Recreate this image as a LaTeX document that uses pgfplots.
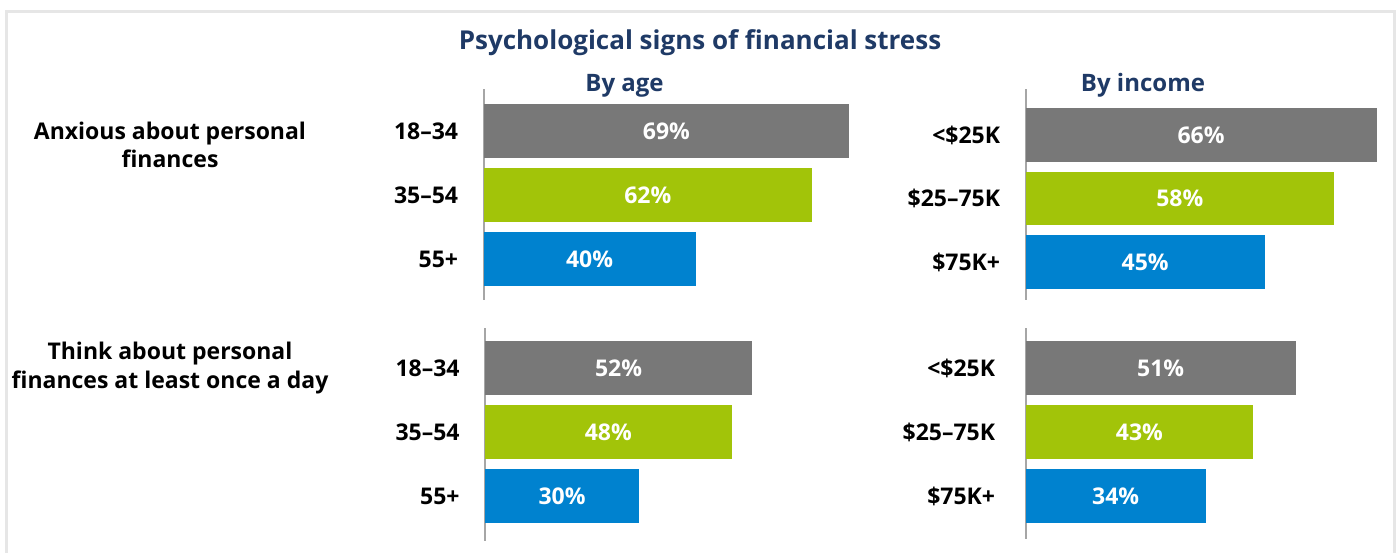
\documentclass[border=0pt]{standalone}
\usepackage{fontspec}
\setmainfont{Open Sans}
\usepackage{pgfplots}
\usepackage{pgfplotstable}
\pgfplotsset{compat=1.18}

\definecolor{cgray}{HTML}{787878}
\definecolor{cgreen}{HTML}{A2C409}
\definecolor{cblue}{HTML}{0082CF}
\definecolor{ctitle}{HTML}{1F3A66}
\definecolor{caxis}{HTML}{A6A6A6}
\definecolor{cframe}{HTML}{E6E6E6}

% y = row, v = percent
\pgfplotstableread{
y v
0 69
1 62
2 40
}\anxAge
\pgfplotstableread{
y v
0 66
1 58
2 45
}\anxInc
\pgfplotstableread{
y v
0 52
1 48
2 30
}\dayAge
\pgfplotstableread{
y v
0 51
1 43
2 34
}\dayInc

\newcommand{\lblfont}{\fontsize{23}{28}\selectfont\bfseries}

\pgfplotsset{
  panel/.style={
    xbar, scale only axis, clip=false, anchor=north west,
    xmin=0, xmax=70, xtick=\empty,
    axis x line=none, axis y line*=left,
    y axis line style={caxis, line width=2pt},
    y dir=reverse,
    ytick={0,1,2}, ytick style={draw=none},
    yticklabel style={font=\lblfont, text=black, inner sep=0pt, anchor=east, xshift=-21pt},
    bar width=54pt, bar shift=0pt,
    /pgf/number format/assume math mode=true,
  },
  vals/.style={
    sharp plot, draw=none, mark=none,
    point meta=explicit,
    nodes near coords={\pgfmathprintnumber{\pgfplotspointmeta}\%},
    every node near coord/.style={anchor=center, text=white, font=\lblfont},
  },
}

\newcommand{\bars}[1]{%
  \addplot[fill=cgray, draw=none, skip coords between index={1}{3}] table[x=v, y=y] {#1};
  \addplot[fill=cgreen, draw=none, skip coords between index={0}{1}, skip coords between index={2}{3}] table[x=v, y=y] {#1};
  \addplot[fill=cblue, draw=none, skip coords between index={0}{2}] table[x=v, y=y] {#1};
  \addplot[vals] table[x expr=\thisrow{v}/2, y=y, meta=v] {#1};
}

\begin{document}
\begin{tikzpicture}
\useasboundingbox (0,0) rectangle (1400pt,-552pt);
\draw[cframe, line width=3pt] (6.5pt,-560pt) -- (6.5pt,-11.5pt) -- (1394pt,-11.5pt) -- (1394pt,-560pt);

\node[anchor=base, text=ctitle, font=\fontsize{26}{30}\selectfont\bfseries] at (700pt,-49.3pt) {Psychological signs of financial stress};
\node[anchor=base, text=ctitle, font=\fontsize{24}{28}\selectfont\bfseries] at (624.5pt,-91.7pt) {By age};
\node[anchor=base, text=ctitle, font=\fontsize{24}{28}\selectfont\bfseries] at (1143pt,-91.7pt) {By income};

\node[anchor=base, font=\lblfont] at (170pt,-139pt) {Anxious about personal};
\node[anchor=base, font=\lblfont] at (170pt,-167pt) {finances};
\node[anchor=base, font=\lblfont] at (170pt,-359pt) {Think about personal};
\node[anchor=base, font=\lblfont] at (170pt,-388pt) {finances at least once a day};

% anxious, by age
\begin{axis}[panel, at={(483.5pt,-89pt)}, width=371pt, height=211pt,
  ymin=-0.656, ymax=2.64, yticklabels={18–34,35–54,55+}]
\bars{\anxAge}
\end{axis}

% anxious, by income
\begin{axis}[panel, at={(1025.5pt,-89pt)}, width=372.4pt, height=211pt,
  ymin=-0.724, ymax=2.598, bar width=53.5pt, yticklabels={<\$25K,\$25–75K,\$75K+}]
\bars{\anxInc}
\end{axis}

% daily, by age
\begin{axis}[panel, at={(485pt,-328pt)}, width=359.6pt, height=213pt,
  ymin=-0.625, ymax=2.703, yticklabels={18–34,35–54,55+}]
\bars{\dayAge}
\end{axis}

% daily, by income
\begin{axis}[panel, at={(1025.5pt,-328pt)}, width=371pt, height=211pt,
  ymin=-0.625, ymax=2.672, yticklabels={<\$25K,\$25–75K,\$75K+},
  yticklabel style={xshift=-5pt}]
\bars{\dayInc}
\end{axis}
\end{tikzpicture}
\end{document}
